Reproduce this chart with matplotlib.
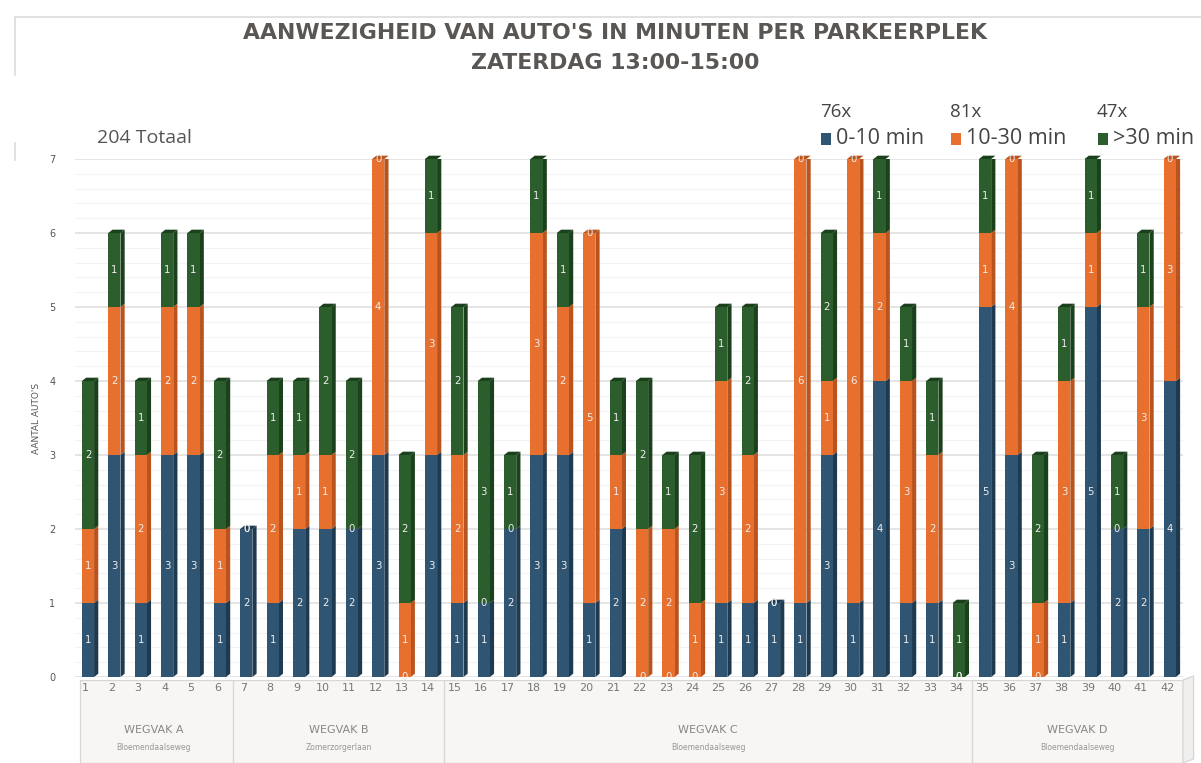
import numpy as np
import matplotlib
matplotlib.use("Agg")
import matplotlib.pyplot as plt
from matplotlib.patches import Polygon, Rectangle

# aantal auto's per parkeerplek, per duurklasse
plekken = list(range(1, 43))
kort = [1, 3, 1, 3, 3, 1,
        2, 1, 2, 2, 2, 3, 0, 3,
        1, 1, 2, 3, 3, 1, 2, 0, 0, 0, 1, 1, 1, 1, 3, 1, 4, 1, 1, 0,
        5, 3, 0, 1, 5, 2, 2, 4]
middel = [1, 2, 2, 2, 2, 1,
          0, 2, 1, 1, 0, 4, 1, 3,
          2, 0, 0, 3, 2, 5, 1, 2, 2, 1, 3, 2, 0, 6, 1, 6, 2, 3, 2, 0,
          1, 4, 1, 3, 1, 0, 3, 3]
lang = [2, 1, 1, 1, 1, 2,
        0, 1, 1, 2, 2, 0, 2, 1,
        2, 3, 1, 1, 1, 0, 1, 2, 1, 2, 1, 2, 0, 0, 2, 0, 1, 1, 1, 1,
        1, 0, 2, 1, 1, 1, 1, 0]

wegvakken = ["WEGVAK A", "WEGVAK B", "WEGVAK C", "WEGVAK D"]
straten = ["Bloemendaalseweg", "Zomerzorgerlaan", "Bloemendaalseweg", "Bloemendaalseweg"]
wegvak_grenzen = [(1, 6), (7, 14), (15, 34), (35, 42)]

reeksen = ["0-10 min", "10-30 min", ">30 min"]
kleuren = ["#2f5572", "#e8702f", "#2b5e2c"]
zijkant = ["#1d3a50", "#b9541e", "#1b401c"]

W, H = 1201, 763
fig = plt.figure(figsize=(W / 100, H / 100), dpi=100)
fig.patch.set_facecolor("white")


def fx(x):
    return x / W


def fy(y):
    return 1 - y / H


# kader bovenaan
fig.add_artist(plt.Line2D([fx(15), fx(1201)], [fy(17), fy(17)], color="#dcdcdc", lw=1.2))
fig.add_artist(plt.Line2D([fx(15), fx(15)], [fy(17), fy(75)], color="#dcdcdc", lw=1.2))
fig.add_artist(plt.Line2D([fx(15), fx(15)], [fy(143), fy(160)], color="#dcdcdc", lw=1.2))

fig.text(fx(615), fy(33), "AANWEZIGHEID VAN AUTO'S IN MINUTEN PER PARKEERPLEK",
         ha="center", va="center", fontsize=15.8, fontweight="bold", color="#5a5654")
fig.text(fx(615), fy(63), "ZATERDAG 13:00-15:00",
         ha="center", va="center", fontsize=15.8, fontweight="bold", color="#5a5654")

fig.text(fx(97), fy(138), "%d Totaal" % (sum(kort) + sum(middel) + sum(lang)),
         ha="left", va="center", fontsize=14, color="#555555", family="Open Sans")

# legenda met totalen per klasse
leg_x = [820, 950, 1097]
for lx, naam, kleur, reeks in zip(leg_x, reeksen, kleuren, [kort, middel, lang]):
    fig.text(fx(lx), fy(112), "%dx" % sum(reeks), ha="left", va="center",
             fontsize=13.5, color="#444444", family="Open Sans")
    fig.add_artist(Rectangle((fx(lx + 1), fy(145)), fx(10), 12 / H,
                             facecolor=kleur, edgecolor="none"))
    fig.text(fx(lx + 16), fy(138), naam, ha="left", va="center",
             fontsize=15.5, color="#444444", family="Open Sans")

# grafiekgebied
x0, x1 = 74.8, 1183.0
y_top, y_bot = 159.0, 677.0
ax = fig.add_axes([fx(x0), fy(y_bot), fx(x1 - x0), (y_bot - y_top) / H])
ax.set_xlim(0.5, 42.5)
ax.set_ylim(0, 7)
for s in ax.spines.values():
    s.set_visible(False)

for v in np.arange(0, 7.01, 0.2):
    major = abs(v - round(v)) < 1e-6
    ax.axhline(v, color="#dedede" if major else "#f3f3f3", lw=1.1 if major else 0.8, zorder=0)

ax.set_yticks(range(0, 8))
ax.set_xticks([])
ax.tick_params(axis="y", length=0, labelsize=7, labelcolor="#555555", pad=14)
ax.set_ylabel("AANTAL AUTO'S", fontsize=6.5, color="#555555", labelpad=6)

breedte = 0.46
diepte_x = 0.16
diepte_y = 0.045

x = np.array(plekken, dtype=float)
onder = np.zeros(len(plekken))
for reeks, kleur, zk in zip([kort, middel, lang], kleuren, zijkant):
    waarden = np.array(reeks, dtype=float)
    ax.bar(x, waarden, width=breedte, bottom=onder, color=kleur, zorder=3, linewidth=0)
    for xi, b, h in zip(x, onder, waarden):
        if h > 0:
            r = xi + breedte / 2
            ax.add_patch(Polygon([(r, b), (r + diepte_x, b + diepte_y),
                                  (r + diepte_x, b + h + diepte_y), (r, b + h)],
                                 closed=True, facecolor=zk, edgecolor="none", zorder=2))
        ax.text(xi, b + h / 2 if h > 0 else b, "%d" % h, ha="center", va="center",
                fontsize=7.3, color="#eeeeee", zorder=5)
    onder = onder + waarden

# bovenvlak van elke staaf
for xi, top, k, m, l in zip(x, onder, kort, middel, lang):
    kleur = zijkant[2] if l > 0 else (zijkant[1] if m > 0 else zijkant[0])
    lft = xi - breedte / 2
    r = xi + breedte / 2
    ax.add_patch(Polygon([(lft, top), (lft + diepte_x, top + diepte_y),
                          (r + diepte_x, top + diepte_y), (r, top)],
                         closed=True, facecolor=kleur, edgecolor="none", zorder=2,
                         clip_on=False))

# categorie-as met wegvakken
cax = fig.add_axes([fx(x0), 0, fx(x1 - x0), fy(680)])
cax.set_xlim(0.5, 42.5)
cax.set_ylim(0, 83)
cax.axis("off")
cax.add_patch(Rectangle((0.7, 0), 41.8, 83, facecolor="#f7f6f4", edgecolor="#d6d6d6", lw=0.9))
cax.add_patch(Polygon([(42.5, 0), (42.9, 4), (42.9, 87), (42.5, 83)], closed=True,
                      facecolor="#f0efed", edgecolor="#d6d6d6", lw=0.9, clip_on=False))
for (a, b), naam, straat in zip(wegvak_grenzen, wegvakken, straten):
    if a > 1:
        cax.plot([a - 0.5, a - 0.5], [0, 83], color="#d6d6d6", lw=0.9)
    midden = (a + b) / 2
    cax.text(midden, 33, naam, ha="center", va="center", fontsize=8, color="#8a8583")
    cax.text(midden, 15, straat, ha="center", va="center", fontsize=5.5, color="#9a9593")
for p in plekken:
    cax.text(p - 0.1, 75, str(p), ha="center", va="center", fontsize=8, color="#777777")

fig.savefig("out.png", dpi=100)
